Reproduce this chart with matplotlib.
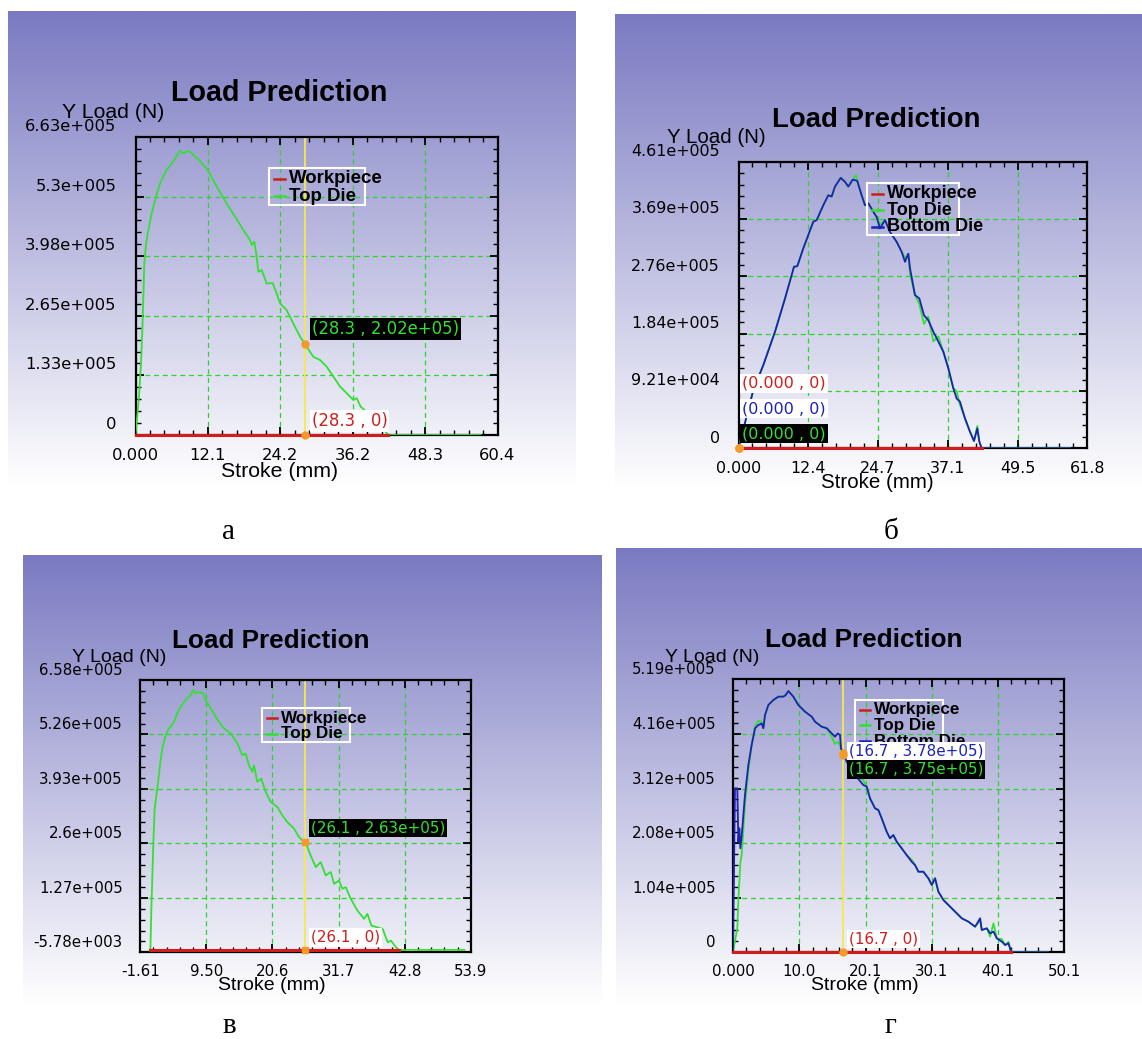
import numpy as np
import matplotlib
matplotlib.use("Agg")
import matplotlib.pyplot as plt
from matplotlib.patches import Rectangle
from matplotlib.transforms import ScaledTranslation

# ---------------- data (stroke in mm, load in N) ----------------
# panel a
a_x = [0.0, 0.58, 0.92, 1.14, 1.31, 1.47, 1.75, 2.14, 2.70, 3.42,
       4.09, 5.20, 6.31, 7.15, 7.43, 7.98, 8.82, 9.38, 10.49, 11.99,
       13.54, 15.21, 16.60, 17.99, 19.10, 19.39, 19.83, 20.22, 20.50, 21.06,
       21.89, 22.89, 23.56, 24.11, 25.22, 26.33, 27.45, 28.28, 29.67, 30.78,
       31.90, 33.01, 34.12, 35.24, 36.35, 36.90, 37.58, 39.50, 41.00, 42.20,
       57.60]
a_top_die = [0, 85000, 159500, 233600, 307800, 382000, 423000, 456000, 493000, 530000,
             560000, 590000, 608000, 626700, 632000, 627000, 632000, 627000, 613000, 591000,
             553000, 515000, 486000, 456000, 434000, 422700, 430000, 396700, 363000, 367000,
             337000, 338000, 315000, 293000, 278000, 248000, 219000, 202000, 174000, 167000,
             152000, 130000, 108000, 93000, 78000, 82000, 63000, 40000, 18000, 0,
             0]
a_work_x = [0.0, 42.2]
a_work = [0, 0]
a_xticks = ["0.000", "12.1", "24.2", "36.2", "48.3", "60.4"]
a_yticks = ["0", "1.33e+005", "2.65e+005", "3.98e+005", "5.3e+005", "6.63e+005"]
a_cursor = 28.3
a_read = [2.02e5, 0]

# panel b
b_x = [0.0, 2.63, 4.40, 6.47, 8.24, 9.83, 10.42, 11.48, 13.25, 13.84,
       15.02, 15.91, 16.50, 17.09, 18.10, 18.86, 19.45, 20.22, 20.81, 21.04,
       21.81, 22.40, 23.00, 23.88, 24.47, 25.06, 25.95, 26.83, 28.02, 28.90,
       29.49, 30.08, 30.38, 31.26, 32.03, 32.86, 33.62, 34.51, 35.40, 36.28,
       37.17, 38.05, 38.64, 39.23, 40.12, 41.00, 41.71, 42.30, 42.65, 43.07,
       58.70]
b_bottom_die = [0, 93800, 134000, 187600, 241000, 292000, 293000, 321700, 364500, 367000,
                391000, 407000, 405000, 421000, 435000, 428700, 421000, 432000, 431000, 430000,
                407000, 391000, 394000, 380500, 372000, 353800, 367000, 348000, 332000, 316000,
                300000, 313000, 289500, 246500, 241000, 214000, 206000, 187600, 171500, 155400,
                128600, 96500, 80000, 75000, 48000, 26700, 11700, 32000, 11000, 0,
                0]
b_top_die = [0, 93800, 134000, 187600, 241000, 292000, 293000, 321700, 364500, 367000,
             391000, 407000, 405000, 421000, 435000, 428700, 421000, 432000, 440000, 430000,
             407000, 391000, 394000, 380500, 372000, 360000, 367000, 348000, 332000, 316000,
             306000, 313000, 280000, 246500, 232000, 200000, 212000, 172000, 180000, 155400,
             128600, 96500, 92000, 70000, 48000, 26700, 11700, 36000, 11000, 0,
             0]
b_work_x = [0.0, 43.07]
b_work = [0, 0]
b_xticks = ["0.000", "12.4", "24.7", "37.1", "49.5", "61.8"]
b_yticks = ["0", "9.21e+004", "1.84e+005", "2.76e+005", "3.69e+005", "4.61e+005"]
b_cursor = 0.0
b_read = [0]

# panel c
c_x = [0.10, 0.26, 0.60, 0.82, 1.26, 1.71, 2.10, 2.66, 3.22, 3.95,
       4.62, 5.18, 6.02, 6.86, 7.30, 7.69, 8.25, 8.98, 9.37, 10.21,
       11.61, 12.45, 13.57, 14.69, 15.53, 16.09, 16.65, 17.21, 17.49, 18.05,
       18.72, 19.45, 20.29, 21.41, 22.25, 23.09, 24.21, 25.05, 25.61, 26.17,
       27.01, 27.85, 28.69, 29.53, 30.37, 30.93, 31.77, 32.33, 32.89, 33.73,
       34.85, 35.97, 36.53, 37.20, 38.20, 39.10, 39.93, 40.49, 41.33, 41.89,
       52.80]
c_top_die = [0, 100000, 263000, 344600, 393400, 450000, 491000, 523600, 540000, 552000,
             576600, 593000, 609000, 621000, 633500, 625000, 629000, 625000, 609000, 588800,
             556000, 540000, 528000, 503600, 474800, 478900, 450000, 434000, 450000, 409500,
             417700, 385000, 361000, 348500, 328000, 311600, 295700, 275000, 267000, 261500,
             230000, 201900, 214000, 181600, 190000, 161300, 169000, 149000, 153000, 124700,
             96000, 75800, 88000, 59400, 55000, 51000, 18600, 22600, 6500, 0,
             0]
c_work_x = [0.10, 41.89]
c_work = [0, 0]
c_xticks = ["-1.61", "9.50", "20.6", "31.7", "42.8", "53.9"]
c_yticks = ["-5.78e+003", "1.27e+005", "2.6e+005", "3.93e+005", "5.26e+005", "6.58e+005"]
c_cursor = 26.1
c_read = [2.63e5, 0]

# panel d
d_x = [0.00, 0.30, 0.65, 0.81, 0.96, 1.11, 1.31, 1.81, 2.32, 2.82,
       3.33, 3.83, 4.33, 4.59, 4.84, 5.34, 6.10, 6.86, 7.61, 7.96,
       8.37, 9.12, 9.88, 10.89, 11.90, 12.40, 13.40, 14.16, 14.92, 15.42,
       15.83, 16.18, 16.33, 16.68, 17.19, 18.44, 19.70, 20.21, 20.71, 21.47,
       21.97, 22.48, 23.23, 23.74, 24.24, 24.75, 25.50, 26.26, 27.02, 27.52,
       28.03, 28.78, 29.54, 30.05, 30.55, 31.05, 31.81, 32.57, 33.58, 34.59,
       35.59, 36.60, 37.36, 37.61, 38.37, 38.87, 39.38, 39.88, 40.64, 41.14,
       41.65, 42.05, 47.60]
d_bottom_die = [0, 311800, 311800, 210000, 235700, 197700, 221000, 299000, 356000, 394000,
                425800, 432000, 435000, 426000, 451000, 470000, 479600, 486000, 486000, 489000,
                496700, 486000, 470000, 457400, 448000, 438400, 428900, 426000, 416300, 409900,
                416000, 413000, 387800, 378300, 362300, 337000, 318000, 315000, 292800, 273700,
                270500, 254700, 229300, 216700, 223000, 210300, 197700, 184700, 172200, 165900,
                153200, 153200, 140600, 127900, 140600, 115200, 99400, 89900, 77200, 64600,
                58200, 48700, 64600, 42400, 45600, 36100, 39300, 26600, 20200, 13900,
                17000, 0, 0]
d_top_die = [0, 22000, 45600, 100000, 134000, 170000, 185000, 280000, 345000, 394000,
             430000, 440000, 438000, 426000, 451000, 470000, 479600, 486000, 486000, 489000,
             496700, 486000, 470000, 457400, 448000, 438400, 428900, 426000, 410000, 396000,
             400000, 394000, 384000, 375000, 362300, 337000, 327500, 315000, 292800, 273700,
             270500, 254700, 229300, 216700, 223000, 210300, 197700, 184700, 176000, 165900,
             153200, 153200, 140600, 127900, 140600, 115200, 99400, 89900, 77200, 64600,
             58200, 48700, 60000, 42400, 45600, 30000, 55000, 26600, 25000, 13900,
             20000, 0, 0]
d_work_x = [0.0, 42.05]
d_work = [0, 0]
d_xticks = ["0.000", "10.0", "20.1", "30.1", "40.1", "50.1"]
d_yticks = ["0", "1.04e+005", "2.08e+005", "3.12e+005", "4.16e+005", "5.19e+005"]
d_cursor = 16.7
d_read = [3.78e5, 3.75e5, 0]

captions = ["а", "б", "в", "г"]

# ---------------- style ----------------
GREEN = "#33e033"
BLUE = "#1b22b4"
RED = "#d01c1c"
GRID = "#2ed42e"
YELLOW = "#f7e84a"
ORANGE = "#f39a2a"
TOP = np.array([122, 122, 194]) / 255.0
SANS = "Liberation Sans"

W, H = 1142, 1039
fig = plt.figure(figsize=(W / 100, H / 100), dpi=100)


def box(l, t, r, b):
    return [l / W, 1 - b / H, (r - l) / W, (b - t) / H]


def ftext(x, y, s, **kw):
    fig.text(x / W, 1 - y / H, s, **kw)


def panel(bg_box, ax_box, s, xlim, ylim, xlabels, ylabels, curves, work,
          legend, cursor, notes, dot_marker):
    bg = fig.add_axes(box(*bg_box), zorder=0)
    shade = np.linspace(0, 1, 400)[:, None, None]
    bg.imshow(TOP * (1 - shade) + shade, aspect="auto", extent=(0, 1, 0, 1))
    bg.set_axis_off()

    al, at, ar, ab = ax_box
    ax = fig.add_axes(box(al, at, ar, ab), zorder=2)
    ax.set_facecolor("none")
    ax.set_xlim(*xlim)
    ax.set_ylim(*ylim)
    xt = np.linspace(xlim[0], xlim[1], 6)
    yt = np.linspace(ylim[0], ylim[1], 6)
    ax.set_xticks(xt, xlabels)
    ax.set_yticks(yt, ylabels)
    ax.set_xticks(np.linspace(xlim[0], xlim[1], 26), minor=True)
    ax.set_yticks(np.linspace(ylim[0], ylim[1], 26), minor=True)
    ax.tick_params(which="both", direction="in", top=True, right=True)
    ax.tick_params(which="major", length=6, width=1.3)
    ax.tick_params(which="minor", length=3.5, width=1.0)
    ax.tick_params(axis="x", which="major", pad=8.6 * s, labelsize=10.8 * s)
    ax.tick_params(axis="y", which="major", pad=12.6 * s, labelsize=10.8 * s)
    for sp in ax.spines.values():
        sp.set_linewidth(1.6)
    up = ScaledTranslation(0, 11 * s / 100, fig.dpi_scale_trans)
    for lab in ax.get_yticklabels():
        lab.set_transform(lab.get_transform() + up)

    for v in xt[1:-1]:
        ax.axvline(v, color=GRID, lw=0.9, ls=(0, (4, 3)), zorder=1)
    for v in yt[1:-1]:
        ax.axhline(v, color=GRID, lw=0.9, ls=(0, (4, 3)), zorder=1)
    ax.axvline(cursor, color=YELLOW, lw=1.3, zorder=2)

    for x, y, c in curves:
        ax.plot(x, y, color=c, lw=1.3, zorder=3)
    ax.plot(work[0], work[1], color=RED, lw=2.2, zorder=4, clip_on=False)

    # legend drawn by hand: the box is narrower than its bold labels
    n = len(legend)
    top = 0.104 if n == 2 else 0.075
    rows = [top + 0.036 + 0.058 * k for k in range(n)]
    bottom = rows[-1] + 0.03
    ax.add_patch(Rectangle((0.368, 1 - bottom), 0.265, bottom - top,
                           transform=ax.transAxes, fill=False, ec="white",
                           lw=1.5, zorder=5))
    for ry, (name, c) in zip(rows, legend):
        ax.plot([0.383, 0.413], [1 - ry, 1 - ry], transform=ax.transAxes,
                color=c, lw=1.8, zorder=6)
        ax.text(0.425, 1 - ry, name, transform=ax.transAxes, ha="left",
                va="center", fontsize=12.3 * s, fontweight="bold",
                family=SANS, zorder=6)

    for txt, y, c, fc, dx, dy in notes:
        ax.annotate(txt, xy=(cursor, y), xytext=(dx, dy),
                    textcoords="offset pixels", ha="left", va="center",
                    fontsize=10.9 * s, color=c, zorder=7,
                    annotation_clip=False,
                    bbox=dict(boxstyle="square,pad=0.12", fc=fc, ec="none"))
    ax.plot([cursor] * len(notes), [n_[1] for n_ in notes], ls="none",
            marker=dot_marker, ms=5, color=ORANGE, zorder=8, clip_on=False)

    cx = (al + ar) / 2
    ftext(cx - 34.5 * s, at - 32.5 * s, "Load Prediction", ha="center",
          va="baseline", fontsize=18.8 * s, fontweight="bold", family=SANS)
    ftext(al + 26 * s, at - 17.8 * s, "Y Load (N)", ha="right",
          va="baseline", fontsize=14 * s, family=SANS)
    ftext(cx - 33.6 * s, ab + 38 * s, "Stroke (mm)", ha="center",
          va="baseline", fontsize=14 * s, family=SANS)
    return ax


leg2 = [("Workpiece", RED), ("Top Die", GREEN)]
leg3 = [("Workpiece", RED), ("Top Die", GREEN), ("Bottom Die", BLUE)]

panel((7.6, 11, 575, 485), (135.5, 137, 497.5, 435), 1.095,
      (0.0, 60.4), (0.0, 6.63e5), a_xticks, a_yticks,
      [(a_x, a_top_die, GREEN)], (a_work_x, a_work), leg2, a_cursor,
      [("(28.3 , 2.02e+05)", a_read[0], GREEN, "black", 6.5, 15),
       ("(28.3 , 0)", a_read[1], RED, "white", 6.5, 14)], "o")

panel((614.7, 14, 1142, 490), (738.5, 161.7, 1087.4, 448.3), 1.055,
      (0.0, 61.8), (0.0, 4.61e5), b_xticks, b_yticks,
      [(b_x, b_top_die, GREEN), (b_x, b_bottom_die, BLUE)],
      (b_work_x, b_work), leg3, b_cursor,
      [("(0.000 , 0)", b_read[0], RED, "white", 3.5, 65),
       ("(0.000 , 0)", b_read[0], BLUE, "white", 3.5, 39.5),
       ("(0.000 , 0)", b_read[0], GREEN, "black", 3.5, 14.5)], "o")

panel((23, 555, 601.7, 1005), (140.2, 680, 470.9, 952.3), 1.0,
      (-1.61, 53.9), (-5.78e3, 6.58e5), c_xticks, c_yticks,
      [(c_x, c_top_die, GREEN)], (c_work_x, c_work), leg2, c_cursor,
      [("(26.1 , 2.63e+05)", c_read[0], GREEN, "black", 5.5, 14),
       ("(26.1 , 0)", c_read[1], RED, "white", 5.5, 12.6)], "s")

panel((615.5, 548, 1142, 1005), (733, 679.3, 1064.4, 952.3), 1.0,
      (0.0, 50.1), (0.0, 5.19e5), d_xticks, d_yticks,
      [(d_x, d_top_die, GREEN), (d_x, d_bottom_die, BLUE)],
      (d_work_x, d_work), leg3, d_cursor,
      [("(16.7 , 3.78e+05)", d_read[0], BLUE, "white", 5.2, 2.3),
       ("(16.7 , 3.75e+05)", d_read[1], GREEN, "black", 5.2, -14.3),
       ("(16.7 , 0)", d_read[2], RED, "white", 5.2, 13.3)], "o")

for (x, y), cap in zip([(228.5, 539), (891, 539), (229, 1033), (890, 1033)], captions):
    ftext(x, y, cap, ha="center", va="baseline", fontsize=21,
          family="Liberation Serif")

fig.savefig("out.png", dpi=100)
